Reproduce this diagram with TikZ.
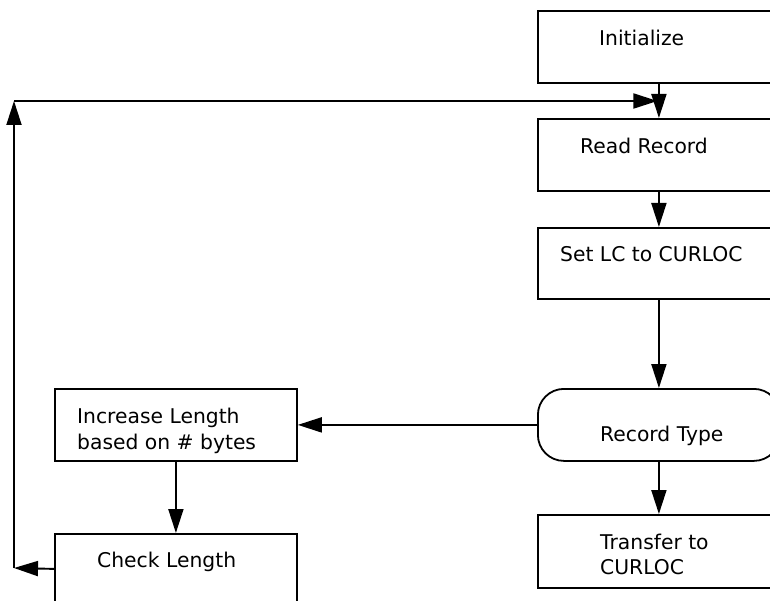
\documentclass[tikz,border=0pt]{standalone}
\usepackage{fontspec}
\setmainfont{DejaVu Sans}
\usetikzlibrary{arrows.meta}
\begin{document}
\begin{tikzpicture}[x=1pt,y=-1pt,
  box/.style={draw,line width=1.8pt,minimum width=242pt,minimum height=72pt,anchor=north west,inner sep=0pt},
  sbox/.style={draw,line width=1.8pt,minimum width=242pt,minimum height=72pt,anchor=north west,inner sep=0pt},
  lbl/.style={anchor=base west,inner sep=0pt,font=\fontsize{20.3}{24}\selectfont},
  arr/.style={line width=1.9pt,-{Triangle[length=24pt,width=15pt]}},
  ln/.style={line width=1.9pt}]
\useasboundingbox (0,0) rectangle (770,601);
\clip (0,0) rectangle (770,601);
\node[box] (init) at (537,10) {};
\node[box] (read) at (537,118) {};
\node[box,minimum height=71pt] (setlc) at (537,227) {};
\node[box,rounded corners=26pt] (rtype) at (537,388) {};
\node[box,minimum height=73pt] (transfer) at (537,514) {};
\node[sbox] (inc) at (54,388) {};
\node[sbox,minimum height=70pt] (check) at (54,533) {};
\node[lbl] (tinit) at (599,46) {Initialize};
\node[lbl] (tread) at (580,154) {Read Record};
\node[lbl] (tset) at (560,262) {Set LC to CURLOC};
\node[lbl] (trtype) at (600,441) {Record Type};
\node[lbl] (ttr1) at (600,549) {Transfer to};
\node[lbl] (ttr2) at (600,574) {CURLOC};
\node[lbl] (tinc1) at (77,423) {Increase Length};
\node[lbl] (tinc2) at (77,449) {based on \# bytes};
\node[lbl] (tcheck) at (97,567) {Check Length};
\coordinate (lb) at (14,568);
\coordinate (lt) at (14,101);
\draw[arr] (init.south) -- (read.north);
\draw[arr] (read.south) -- (setlc.north);
\draw[arr] (setlc.south) -- (rtype.north);
\draw[arr] (rtype.south) -- (transfer.north);
\draw[arr] (rtype.west) -- (inc.east);
\draw[arr] (inc.south) -- (check.north);
\draw[arr] (check.west) -- (lb);
\draw[arr] (lb) -- (lt);
\draw[arr,shorten >=1.5pt] (lt) -- (lt -| init.south);
\end{tikzpicture}
\end{document}
